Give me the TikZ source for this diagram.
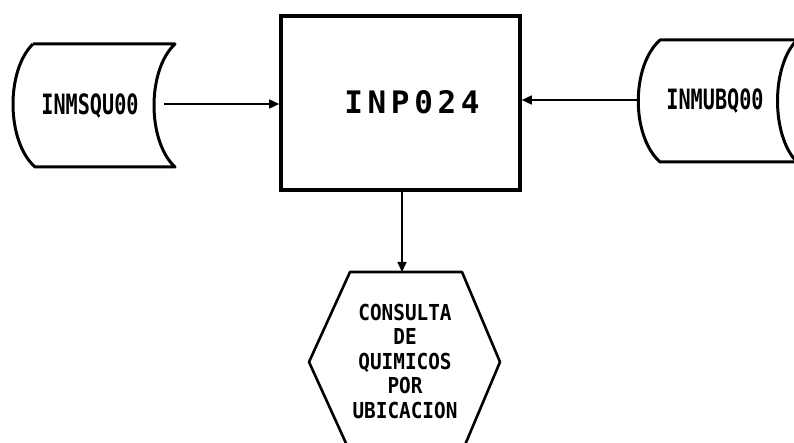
\documentclass[tikz,border=0pt]{standalone}
\usepackage{fontspec}
\newfontfamily\plotfont[FakeStretch=0.72]{DejaVu Sans Mono}
\newfontfamily\hexfont[FakeStretch=0.88]{DejaVu Sans Mono}
\newfontfamily\boxfont[LetterSpace=15]{DejaVu Sans Mono}
\usetikzlibrary{arrows.meta}
\begin{document}
\begin{tikzpicture}[x=1pt,y=-1pt,
  shapeline/.style={line width=3pt, line join=round},
  arr/.style={line width=1.6pt, -{Triangle[length=10pt,width=9pt]}},
  smalltext/.style={font=\plotfont\bfseries\fontsize{28}{28}\selectfont, inner sep=0pt},
]
\useasboundingbox (0,0) rectangle (794,443);
% main process box
\node[draw, line width=3.6pt, minimum width=239pt, minimum height=174pt, inner sep=0pt] (p) at (400.5,103) {};
\node[font=\boxfont\bfseries\fontsize{31}{31}\selectfont, inner sep=0pt] (pt) at (412,102) {INP024};
% left stored data
\draw[shapeline] (33,44) -- (175,44) .. controls (147,70) and (147,141) .. (175,167)
   -- (35,167) .. controls (6,141) and (6,70) .. (33,44);
\node[smalltext] (s1) at (90,106) {INMSQU00};
\coordinate (s1e) at (164,104);
% right stored data
\draw[shapeline] (800,40) -- (660,40) .. controls (631,66) and (631,136) .. (660,162)
   -- (800,162);
\draw[shapeline] (797,40) .. controls (771,66) and (771,136) .. (797,162);
\node[smalltext] (s2) at (715,101) {INMUBQ00};
\coordinate (s2w) at (638,100);
% hexagon display
\coordinate (h) at (405,272);
\draw[line width=2.6pt, line join=round] (350,272) -- (462,272) -- (500,362) -- (462,452)
   -- (350,452) -- (309,362) -- cycle;
\node[font=\hexfont\bfseries\fontsize{22}{24.5}\selectfont, align=center, inner sep=0pt] (d) at (405,361)
  {CONSULTA\\DE\\QUIMICOS\\POR\\UBICACION};
% connectors
\draw[arr] (s1e) -- (p.west |- s1e);
\draw[arr] (s2w) -- (p.east |- s2w);
\draw[arr] (p.south -| h) ++(-3,0) coordinate (ps) (ps) -- (ps |- h);
\end{tikzpicture}
\end{document}
